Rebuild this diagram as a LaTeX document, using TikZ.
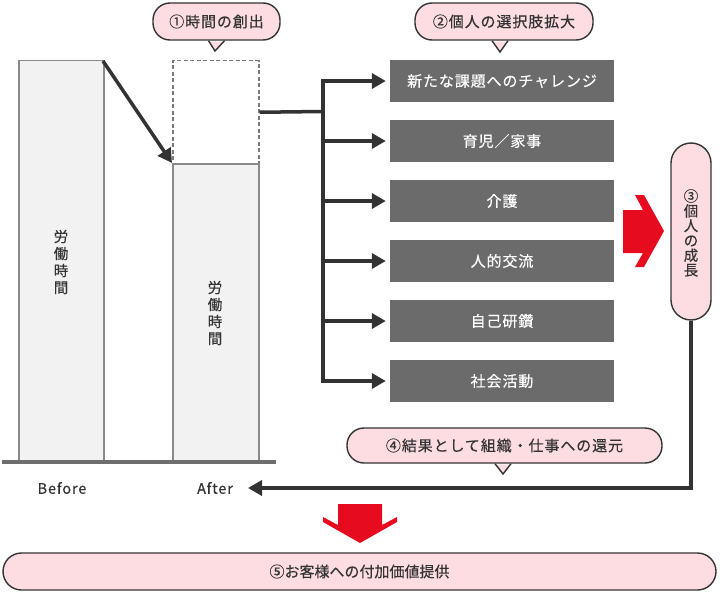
\documentclass[tikz,border=0pt]{standalone}
\usepackage{fontspec}
\setmainfont{Noto Sans CJK JP}
\newfontfamily\jpf{Noto Sans CJK JP}[FakeBold=0.4]
\newfontfamily\jpw{Noto Sans CJK JP}[FakeBold=0.4, LetterSpace=6]
\usetikzlibrary{arrows.meta,calc}
\definecolor{pinkf}{HTML}{FDDDE2}
\definecolor{inkc}{HTML}{333333}
\definecolor{boxg}{HTML}{6B6B6B}
\definecolor{barf}{HTML}{F2F2F2}
\definecolor{barb}{HTML}{8A8A8A}
\definecolor{dashc}{HTML}{7A7A7A}
\definecolor{basec}{HTML}{6E6E6E}
\definecolor{redc}{HTML}{E60B1E}
\tikzset{
  bar/.style={draw=barb, fill=barf, line width=1.5pt, anchor=north west, inner sep=0pt},
  dashbox/.style={draw=dashc, dashed, dash pattern=on 4pt off 2.5pt, line width=1.5pt, anchor=north west, inner sep=0pt},
  dbox/.style={fill=boxg, text=white, minimum width=224pt, minimum height=42pt, inner sep=0pt, font=\jpw\fontsize{15}{18}\selectfont},
  callout/.style={draw=inkc, fill=pinkf, line width=1.4pt, rounded corners=17pt, inner sep=0pt, text=inkc, font=\jpw\fontsize{15}{17}\selectfont},
  arr/.style={draw=inkc, line width=3.5pt, -{Triangle[length=14pt,width=15pt]}},
  trunk/.style={draw=inkc, line width=3.5pt},
  vtext/.style={align=center, text=inkc, font=\jpf\fontsize{14.5}{17}\selectfont},
  lbl/.style={text=inkc, font=\jpw\fontsize{14.5}{17}\selectfont},
  redarrow/.style={fill=redc, draw=none}
}
\begin{document}
\begin{tikzpicture}[x=1pt,y=-1pt]
\useasboundingbox (0,0) rectangle (720,594);

% bars
\node[bar, minimum width=85pt, minimum height=402pt] (before) at (18,60) {};
\node[vtext] (beforetxt) at (61,262) {労\\働\\時\\間};
\node[dashbox, minimum width=86pt, minimum height=103pt] (dash) at (172,60) {};
\node[bar, minimum width=86pt, minimum height=299pt] (after) at (172,163) {};
\node[vtext] (aftertxt) at (215,313) {労\\働\\時\\間};
\draw[draw=basec, line width=3.5pt] (2,462) -- (276,462);

\node[lbl] (beforelbl) at (62,488) {Before};
\node[lbl] (afterlbl) at (215,488) {After};

% arrow before -> after
\coordinate (bt) at (103,61);
\draw[arr] (bt) -- (after.north west);

% callouts 1 and 2
\node[callout, minimum width=127pt, minimum height=37pt] (c1) at (216.5,21.5) {①時間の創出};
\fill[pinkf] ($(c1.south)+(-8,1)$) -- (215,51) -- ($(c1.south)+(8,1)$) -- cycle;
\draw[draw=inkc, line width=1.4pt] ($(c1.south)+(-8,0)$) -- (215,51) -- ($(c1.south)+(8,0)$);

\node[callout, minimum width=178pt, minimum height=37pt] (c2) at (504,21.5) {②個人の選択肢拡大};
\fill[pinkf] ($(c2.south)+(-12,1)$) -- (500,52) -- ($(c2.south)+(4,1)$) -- cycle;
\draw[draw=inkc, line width=1.4pt] ($(c2.south)+(-12,0)$) -- (500,52) -- ($(c2.south)+(4,0)$);

% dark boxes
\node[dbox] (b1) at (502,81) {新たな課題へのチャレンジ};
\node[dbox] (b2) at (502,141) {育児／家事};
\node[dbox] (b3) at (502,201) {介護};
\node[dbox] (b4) at (502,261) {人的交流};
\node[dbox] (b5) at (502,321) {自己研鑽};
\node[dbox] (b6) at (502,381) {社会活動};

% trunk and branches
\coordinate (tk) at (323,111.5);
\draw[trunk] (dash.east) -- (tk);
\draw[trunk] ($(tk |- b1.west)+(0,-1.75)$) -- ($(tk |- b6.west)+(0,1.75)$);
\foreach \b in {b1,b2,b3,b4,b5,b6}{
  \draw[arr] (tk |- \b.west) -- ($(\b.west)+(-4,0)$);
}

% red right arrow
\fill[redarrow] (623,210) -- (643,210) -- (635,195) -- (644,195) -- (664,231) -- (644,267) -- (635,267) -- (643,253) -- (623,253) -- cycle;

% callout 3
\node[callout, rounded corners=20pt, minimum width=40pt, minimum height=177pt] (c3) at (691,231.5) {};
\node[vtext, font=\jpf\fontsize{14.5}{14.8}\selectfont] (c3txt) at (691,233) {③\\個\\人\\の\\成\\長};

% return line
\coordinate (ret) at (691,488);
\coordinate (rettip) at (248,488);
\draw[arr, -] (c3.south) -- (ret);
\draw[arr] ($(ret)+(1.75,0)$) -- (rettip);

% callout 4
\node[callout, minimum width=315pt, minimum height=35pt] (c4) at (504.5,445.5) {④結果として組織・仕事への還元};
\fill[pinkf] ($(c4.south)+(-9.5,1)$) -- (503,474) -- ($(c4.south)+(6.5,1)$) -- cycle;
\draw[draw=inkc, line width=1.4pt] ($(c4.south)+(-9.5,0)$) -- (503,474) -- ($(c4.south)+(6.5,0)$);

% red down arrow
\fill[redarrow] (338,504) -- (382,504) -- (382,525) -- (397,517) -- (397,522) -- (360,543) -- (323,522) -- (323,517) -- (338,525) -- cycle;

% callout 5
\node[callout, font=\jpf\fontsize{15}{17}\selectfont, rounded corners=18.5pt, minimum width=713pt, minimum height=37pt] (c5) at (359.5,571.5) {⑤お客様への付加価値提供};
\end{tikzpicture}
\end{document}
